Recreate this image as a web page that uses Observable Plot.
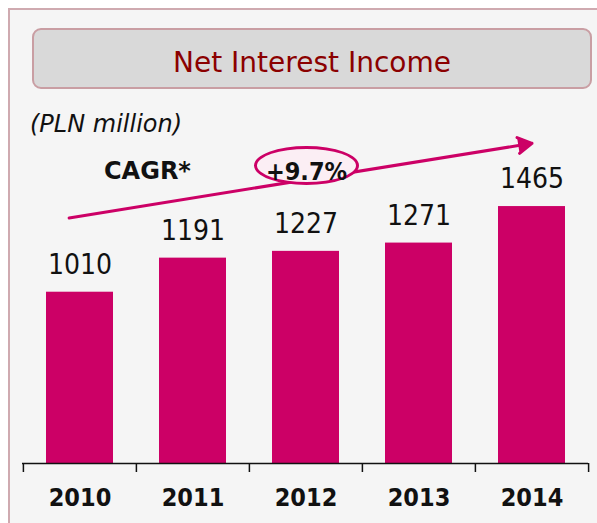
<!DOCTYPE html>
<html>
<head>
<meta charset="utf-8">
<script src="https://cdn.jsdelivr.net/npm/d3@7"></script>
<script src="https://cdn.jsdelivr.net/npm/@observablehq/plot@0.6"></script>
<style>
  html, body { margin: 0; padding: 0; background: #fff; }
  #wrap { position: relative; width: 597px; height: 523px; overflow: hidden; background: #fff; font-family: "DejaVu Sans", sans-serif; }
  #panel { position: absolute; left: 8px; top: 8px; right: -4px; bottom: -4px; background: #f5f5f5; border-left: 2px solid #cfaab0; border-top: 2px solid #cfaab0; }
  #titlebox { position: absolute; left: 32px; top: 28px; width: 556px; height: 57px; background: #d9d9d9; border: 2px solid #c99ea3; border-radius: 9px; }
  #titlebox div { position: absolute; left: 0; right: 0; top: 18.5px; text-align: center; font-size: 28px; line-height: 1; color: #8b0000; }
  #subtitle { position: absolute; left: 30px; top: 112px; font-size: 24px; line-height: 1; font-style: italic; color: #111; }
  #cagr { position: absolute; left: 104px; top: 159px; font-size: 24px; line-height: 1; font-weight: bold; color: #111; }
  #chart { position: absolute; left: 0; top: 95px; }
  #ellipse { position: absolute; left: 254px; top: 146px; width: 105px; height: 39px; box-sizing: border-box; border: 3px solid #cc0066; border-radius: 50%; background: #fbeef4; }
  #ellipse div { position: absolute; left: 0; right: 0; top: 9.5px; text-align: center; font-family: "DejaVu Sans Condensed", "DejaVu Sans", sans-serif; font-weight: bold; font-size: 25px; line-height: 1; color: #111; }
</style>
</head>
<body>
<div id="wrap">
  <div id="panel"></div>
  <div id="titlebox"><div id="title"></div></div>
  <div id="subtitle"></div>
  <div id="cagr"></div>
  <div id="chart"></div>
  <div id="ellipse"><div id="cagrValue"></div></div>
</div>
<script>
// ---- data ----
const titleText = "Net Interest Income";
const unitText = "(PLN million)";
const cagrText = "CAGR*";
const cagrValue = "+9.7%";
const years = ["2010", "2011", "2012", "2013", "2014"];
const income = [1010, 1191, 1227, 1271, 1465];
// trend arrow, in data space
const trendFrom = ["2010"];
const trendTo = ["2014"];
const trendStart = [1414];
const trendEnd = [1801];
const yDomain = [100, 2055];

document.getElementById("title").textContent = titleText;
document.getElementById("subtitle").textContent = unitText;
document.getElementById("cagr").textContent = cagrText;
document.getElementById("cagrValue").textContent = cagrValue;

const data = years.map((y, i) => ({year: y, value: income[i]}));
const trend = trendFrom.map((f, i) => ({from: f, to: trendTo[i], start: trendStart[i], end: trendEnd[i]}));

const W = 597, H = 428, ML = 22, MR = 9, MT = 0, MB = 60;
const step = (W - ML - MR) / years.length;
const magenta = "#cc0066";
const cond = "'DejaVu Sans Condensed', 'DejaVu Sans', sans-serif";

const plot = Plot.plot({
  width: W, height: H,
  marginTop: MT, marginBottom: MB, marginLeft: ML, marginRight: MR,
  style: {background: "transparent", overflow: "visible"},
  x: {domain: years, paddingInner: 0.41, paddingOuter: 0.205},
  y: {domain: yDomain, axis: null},
  marks: [
    Plot.barY(data, {x: "year", y1: yDomain[0], y2: "value", fill: magenta}),
    Plot.ruleY([yDomain[0]], {stroke: "#111", strokeWidth: 1.5}),
    Plot.axisX(years, {tickSize: 9, tickFormat: () => "", dx: -step / 2, strokeWidth: 1.5, stroke: "#111"}),
    Plot.axisX(years.slice(-1), {tickSize: 9, tickFormat: () => "", dx: step / 2, strokeWidth: 1.5, stroke: "#111"}),
    Plot.text(data, {x: "year", y: yDomain[0], text: "year", dy: 34, fontSize: 25, fontWeight: "bold", fontFamily: cond, fill: "#111"}),
    Plot.text(data, {x: "year", y: "value", text: d => String(d.value), dy: -27.5, fontSize: 28, fontFamily: cond, fill: "#111"}),
    Plot.arrow(trend, {x1: "from", y1: "start", x2: "to", y2: "end", stroke: magenta, fill: magenta, strokeWidth: 3, headLength: 8, insetStart: -11})
  ]
});
document.getElementById("chart").appendChild(plot);
</script>
</body>
</html>
